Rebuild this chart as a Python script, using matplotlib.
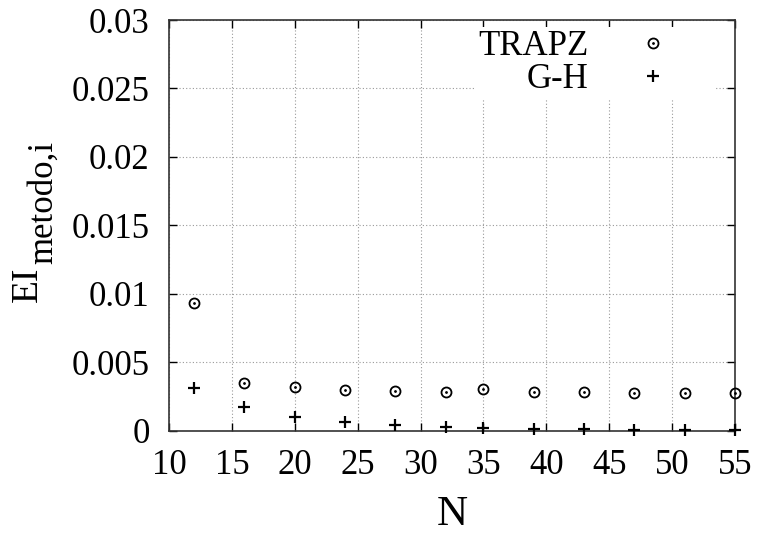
import numpy as np
import matplotlib
matplotlib.use('Agg')
import matplotlib.pyplot as plt
from matplotlib.legend_handler import HandlerTuple

plt.rcParams['font.family'] = ['Liberation Serif', 'DejaVu Serif']

# data
N = [12, 16, 20, 24, 28, 32, 35, 39, 43, 47, 51, 55]
ei_trapz = [0.0093, 0.00344, 0.00315, 0.00298, 0.0029, 0.00285, 0.00305,
            0.0028, 0.00278, 0.00276, 0.00274, 0.00272]
ei_gh = [0.0031, 0.0017, 0.00101, 0.00065, 0.00038, 0.00028, 0.00016,
         0.00011, 0.00009, 0.00004, 0.00003, 0.00002]

xticks = [10, 15, 20, 25, 30, 35, 40, 45, 50, 55]
yticks = [0, 0.005, 0.01, 0.015, 0.02, 0.025, 0.03]
ytick_labels = ['0', '0.005', '0.01', '0.015', '0.02', '0.025', '0.03']

fig = plt.figure(figsize=(7.59, 5.35), dpi=100)
ax = fig.add_axes([0.2227, 0.1953, 0.7457, 0.7673])

c1, = ax.plot(N, ei_trapz, 'o', ms=7.2, mfc='none', mec='black', mew=1.3,
              clip_on=False, zorder=3)
c2, = ax.plot(N, ei_trapz, '.', ms=2.0, color='black', clip_on=False, zorder=3)
p1, = ax.plot(N, ei_gh, '+', ms=8.5, mew=1.6, color='black', clip_on=False,
              zorder=3)

ax.set_xlim(10, 55)
ax.set_ylim(0, 0.03)
ax.set_xticks(xticks)
ax.set_yticks(yticks)
ax.set_yticklabels(ytick_labels)
ax.tick_params(direction='in', length=6, width=1, labelsize=25,
               top=True, right=True)
ax.tick_params(axis='y', pad=14)
ax.tick_params(axis='x', pad=13)
ax.grid(True, color='#999999', linestyle=(0, (1, 2)), linewidth=0.8)
for s in ax.spines.values():
    s.set_color('#333333')
    s.set_linewidth(1.2)

ax.set_xlabel('N', fontsize=31, labelpad=10)

# y label: EI with a large subscript (gnuplot style)
fig.text(45 / 759, 1 - 302 / 535, 'EI', fontsize=27, rotation=90,
         ha='right', va='bottom')
fig.text(60 / 759, 1 - 264 / 535, 'metodo,i', fontsize=25, rotation=90,
         ha='right', va='bottom')

leg = ax.legend([(c1, c2), p1], ['TRAPZ', 'G-H'],
                handler_map={tuple: HandlerTuple(ndivide=1, pad=0)},
                loc='upper right', bbox_to_anchor=(0.965, 0.983),
                markerfirst=False, fontsize=25, frameon=True, fancybox=False,
                framealpha=1, edgecolor='white', borderpad=0.1,
                labelspacing=0.0, handlelength=3.4, handletextpad=0.15,
                borderaxespad=0.0)
leg.get_frame().set_linewidth(0)

fig.savefig('out.png', dpi=100)
